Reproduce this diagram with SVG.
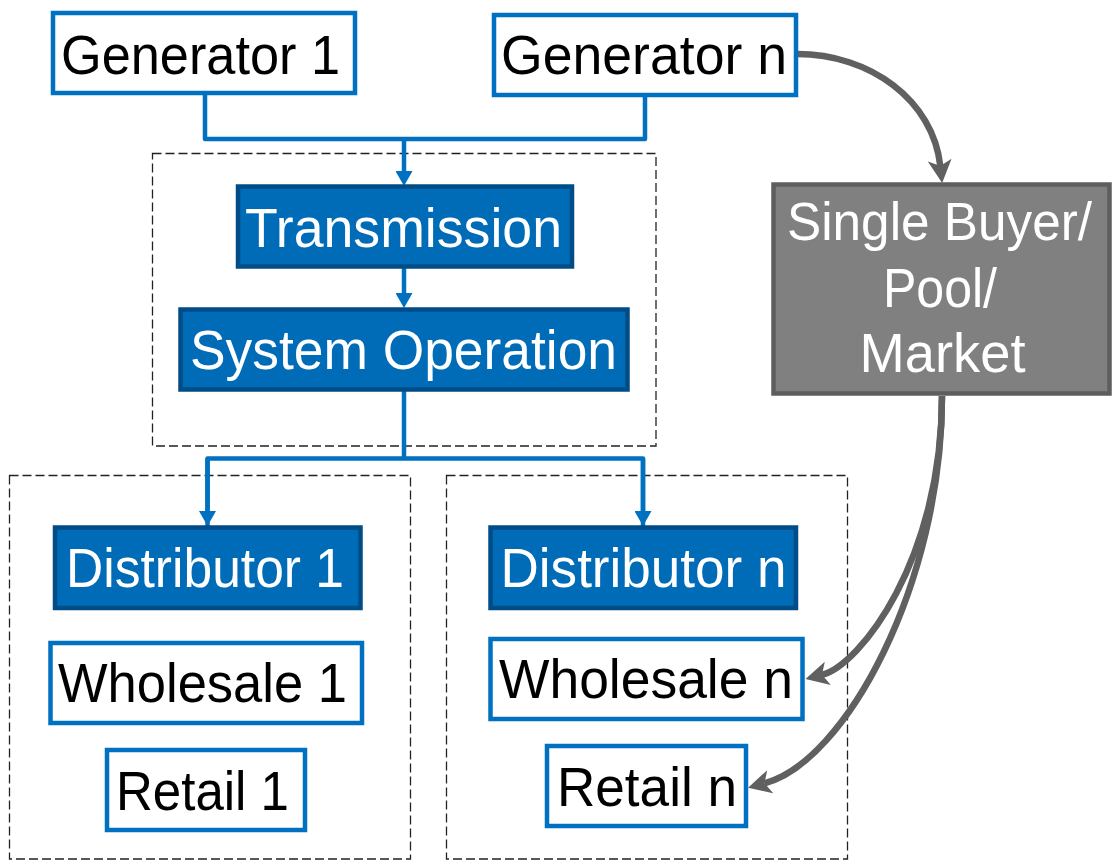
<svg xmlns="http://www.w3.org/2000/svg" width="1113" height="865" viewBox="0 0 1113 865">
  <style>
    .t { font-family: "Liberation Sans", Arial, Helvetica, sans-serif; font-size: 56px; }
    .dark { fill: #000000; }
    .light { fill: #ffffff; }
    .wbox { fill: #ffffff; stroke: #0070C0; stroke-width: 4.5; }
    .bbox { fill: #006BB6; stroke: #004C86; stroke-width: 4.5; }
    .gbox { fill: #808080; stroke: #5E5E5E; stroke-width: 4.5; }
    .group { fill: none; stroke: #222222; stroke-width: 1.3; stroke-dasharray: 9 4; }
    .blue { fill: none; stroke: #0070C0; stroke-width: 4.5; stroke-linejoin: round; }
    .gray { fill: none; stroke: #606060; stroke-width: 6.5; }
  </style>
  <defs>
    <marker id="ab" viewBox="0 0 15 17" markerWidth="15" markerHeight="17" refX="1" refY="8.5" orient="auto" markerUnits="userSpaceOnUse">
      <path d="M0,0 L15,8.5 L0,17 z" fill="#0070C0"/>
    </marker>
    <marker id="ag" viewBox="0 0 23 24" markerWidth="23" markerHeight="24" refX="6" refY="12" orient="auto" markerUnits="userSpaceOnUse">
      <path d="M0,0 L23,12 L0,24 L6,12 z" fill="#606060"/>
    </marker>
  </defs>

  <g id="groups">
    <rect class="group" x="152.5" y="153.5" width="503.5" height="292.5"/>
    <rect class="group" x="9.5" y="475.5" width="401" height="383.5"/>
    <rect class="group" x="446.5" y="475.5" width="401" height="383.5"/>
  </g>

  <g id="connectors">
    <path class="blue" d="M205,95 V139 H645 V97"/>
    <path class="blue" d="M404,139 V172" marker-end="url(#ab)"/>
    <path class="blue" d="M404,268 V294" marker-end="url(#ab)"/>
    <path class="blue" d="M404,391 V458.5"/>
    <path class="blue" d="M207.5,526 V458.5 H643 V526"/>
    <path class="blue" d="M207.5,458.5 V512" marker-end="url(#ab)"/>
    <path class="blue" d="M643,458.5 V512" marker-end="url(#ab)"/>
    <path class="gray" d="M797,54 C870,54 933,100 940.3,166" marker-end="url(#ag)"/>
    <path class="gray" d="M942,396 C942,560 860,665 822,674.8" marker-end="url(#ag)"/>
    <path class="gray" d="M942,396 C942,585 845,762 764.5,783.3" marker-end="url(#ag)"/>
  </g>

  <g id="gen1">
    <rect class="wbox" x="53" y="13" width="302" height="80"/>
    <text class="t dark" x="61" y="74" textLength="279" lengthAdjust="spacingAndGlyphs">Generator 1</text>
  </g>
  <g id="genn">
    <rect class="wbox" x="494" y="15" width="302" height="80"/>
    <text class="t dark" x="501" y="74" textLength="286" lengthAdjust="spacingAndGlyphs">Generator n</text>
  </g>
  <g id="transmission">
    <rect class="bbox" x="238" y="186.5" width="334" height="80"/>
    <text class="t light" x="245" y="246.7" textLength="317" lengthAdjust="spacingAndGlyphs">Transmission</text>
  </g>
  <g id="sysop">
    <rect class="bbox" x="180.5" y="309.5" width="447" height="80"/>
    <text class="t light" x="190" y="369.3" textLength="427" lengthAdjust="spacingAndGlyphs">System Operation</text>
  </g>
  <g id="market">
    <rect class="gbox" x="773.5" y="184.5" width="336" height="209"/>
    <text class="t light" x="787" y="240" style="font-size:53px" textLength="305" lengthAdjust="spacingAndGlyphs">Single Buyer/</text>
    <text class="t light" x="883" y="306.7" textLength="114" lengthAdjust="spacingAndGlyphs">Pool/</text>
    <text class="t light" x="859.5" y="371.7" textLength="166" lengthAdjust="spacingAndGlyphs">Market</text>
  </g>
  <g id="dist1">
    <rect class="bbox" x="55" y="527.5" width="305.5" height="80.5"/>
    <text class="t light" x="66" y="586.7" textLength="278" lengthAdjust="spacingAndGlyphs">Distributor 1</text>
  </g>
  <g id="distn">
    <rect class="bbox" x="490.5" y="527.5" width="305.5" height="80.5"/>
    <text class="t light" x="500.5" y="586.7" textLength="286" lengthAdjust="spacingAndGlyphs">Distributor n</text>
  </g>
  <g id="whole1">
    <rect class="wbox" x="50.5" y="643" width="311.5" height="80"/>
    <text class="t dark" x="58" y="702.3" textLength="289" lengthAdjust="spacingAndGlyphs">Wholesale 1</text>
  </g>
  <g id="wholen">
    <rect class="wbox" x="490.5" y="639" width="312" height="80"/>
    <text class="t dark" x="499" y="698.3" textLength="294" lengthAdjust="spacingAndGlyphs">Wholesale n</text>
  </g>
  <g id="retail1">
    <rect class="wbox" x="107" y="750" width="198" height="80"/>
    <text class="t dark" x="116" y="810" textLength="173" lengthAdjust="spacingAndGlyphs">Retail 1</text>
  </g>
  <g id="retailn">
    <rect class="wbox" x="547" y="746" width="199" height="80"/>
    <text class="t dark" x="557" y="805.7" textLength="180" lengthAdjust="spacingAndGlyphs">Retail n</text>
  </g>
</svg>
